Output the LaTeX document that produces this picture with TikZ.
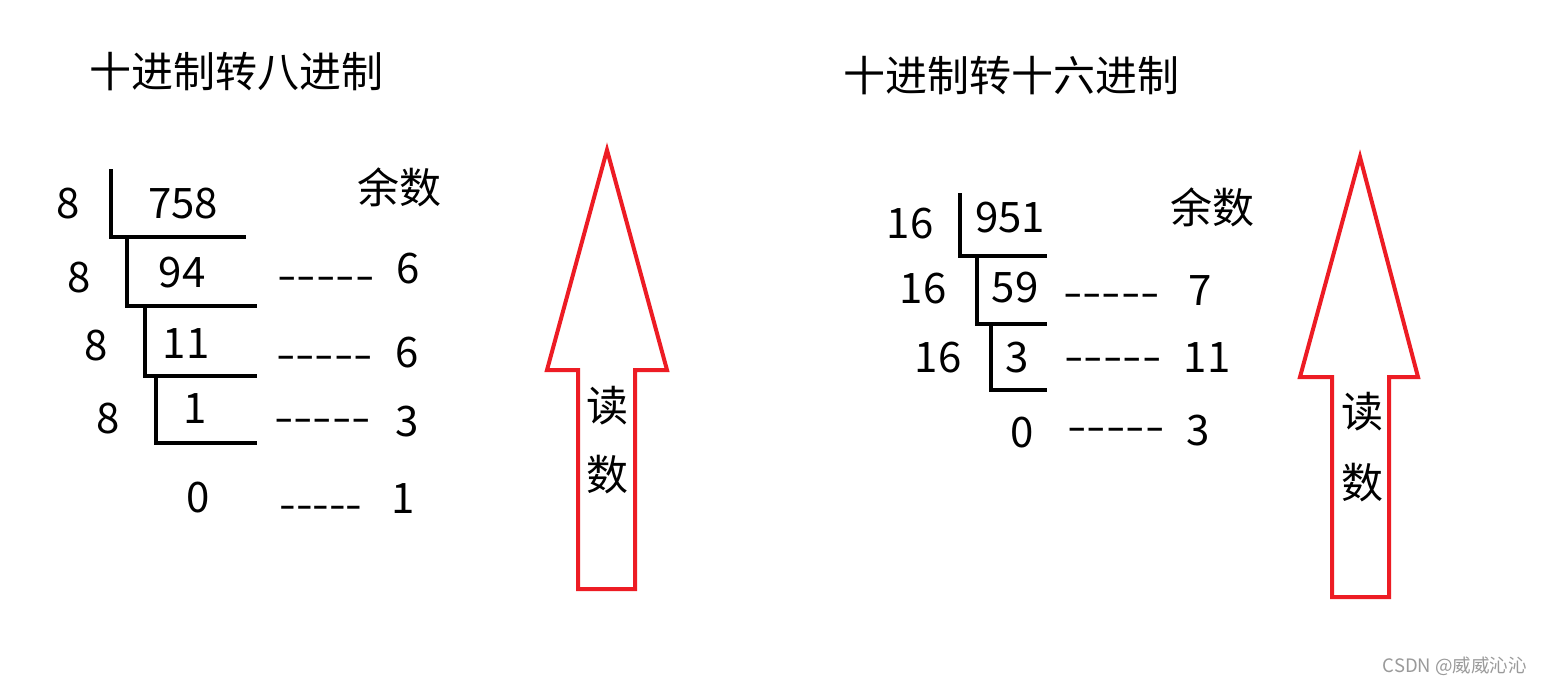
\documentclass[tikz,border=0pt]{standalone}
\usepackage{fontspec}
\usepackage{graphicx}
\setmainfont{Noto Sans CJK SC}
\definecolor{arrowred}{HTML}{ED1C24}
\definecolor{wmgray}{HTML}{9A9A9A}
\newcommand\dashrun[1][1.33]{\scalebox{#1}[1]{-{}-{}-{}-{}-}}
\begin{document}
\begin{tikzpicture}[x=1pt,y=-1pt,
  txt/.style={anchor=base,inner sep=0pt,font=\fontsize{42}{50}\selectfont},
  divline/.style={draw=black,line width=4pt,line join=miter},
  readarrow/.style={draw=arrowred,line width=4pt,line join=miter},
  wmark/.style={anchor=base east,inner sep=0pt,font=\fontsize{18.5}{20}\selectfont,text=wmgray}]
\useasboundingbox[fill=white] (0,0) rectangle (1542,685);

% ---------- left: decimal to octal ----------
\node[txt] (tl) at (236,88) {十进制转八进制};
\node[txt] (ral) at (399,203) {余数};

\draw[divline] (111,169) |- (246,237);
\draw[divline] (127,237) |- (257,306);
\draw[divline] (145,306) |- (257,376);
\draw[divline] (156,376) |- (257,443);

\node[txt] (la1) at (68,218) {8};
\node[txt] (lq1) at (183,218) {758};
\node[txt] (la2) at (79,292) {8};
\node[txt] (lq2) at (182,287) {94};
\node[txt] (la3) at (96,360) {8};
\node[txt] (lq3) at (186,358) {11};
\node[txt] (la4) at (108,433) {8};
\node[txt] (lq4) at (195,423) {1};
\node[txt] (lq5) at (198,512) {0};

\node[txt] (ld1) at (326,290) {\dashrun};
\node[txt] (ld2) at (324.5,369) {\dashrun};
\node[txt] (ld3) at (322.5,432) {\dashrun};
\node[txt] (ld4) at (321,519) {\dashrun[1.14]};

\node[txt] (lr1) at (408,283) {6};
\node[txt] (lr2) at (407,367) {6};
\node[txt] (lr3) at (407,436) {3};
\node[txt] (lr4) at (403,513) {1};

\draw[readarrow] (607,150) -- (667,370) -- (635,370) -- (635,589) -- (578,589) -- (578,370) -- (547,370) -- cycle;
\node[txt] (lread1) at (607,421) {读};
\node[txt] (lread2) at (607,490) {数};

% ---------- right: decimal to hexadecimal ----------
\node[txt] (tr) at (1011,92) {十进制转十六进制};
\node[txt] (rar) at (1212,223) {余数};

\draw[divline] (960,193) |- (1047,256);
\draw[divline] (977,256) |- (1047,324);
\draw[divline] (991,324) |- (1047,390);

\node[txt] (ra1) at (910,238) {16};
\node[txt] (rq1) at (1010,232) {951};
\node[txt] (ra2) at (923,303) {16};
\node[txt] (rq2) at (1015,302) {59};
\node[txt] (ra3) at (938,372) {16};
\node[txt] (rq3) at (1017,372) {3};
\node[txt] (rq4) at (1022,447) {0};

\node[txt] (rd1) at (1111.5,307) {\dashrun};
\node[txt] (rd2) at (1113,371) {\dashrun};
\node[txt] (rd3) at (1116,441) {\dashrun};

\node[txt] (rr1) at (1200,305) {7};
\node[txt] (rr2) at (1207,372) {11};
\node[txt] (rr3) at (1198,445) {3};

\draw[readarrow] (1360,157) -- (1418,377) -- (1389,377) -- (1389,597) -- (1332,597) -- (1332,377) -- (1300,377) -- cycle;
\node[txt] (rread1) at (1362,427) {读};
\node[txt] (rread2) at (1362,498) {数};

\node[wmark] (wm) at (1527,672) {CSDN @威威沁沁};
\end{tikzpicture}
\end{document}
